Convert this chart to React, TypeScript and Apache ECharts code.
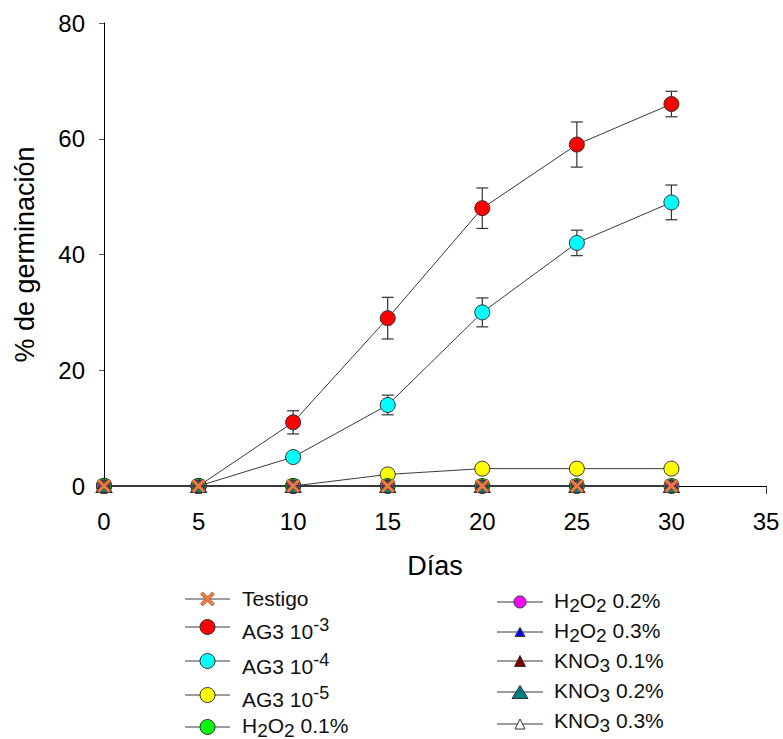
import React, { useEffect, useRef } from 'react';
import * as echarts from 'echarts';

// Germination (%) by day for each treatment
const days = [0, 5, 10, 15, 20, 25, 30];
const testigo = [0, 0, 0, 0, 0, 0, 0];
const ag3_1e3 = [0, 0, 11, 29, 48, 59, 66];
const ag3_1e3_se = [0, 0, 2, 3.6, 3.5, 3.9, 2.2];
const ag3_1e4 = [0, 0, 5, 14, 30, 42, 49];
const ag3_1e4_se = [0, 0, 0.8, 1.7, 2.5, 2.2, 3];
const ag3_1e5 = [0, 0, 0, 2, 3, 3, 3];
const h2o2_01 = [0, 0, 0, 0, 0, 0, 0];
const h2o2_02 = [0, 0, 0, 0, 0, 0, 0];
const h2o2_03 = [0, 0, 0, 0, 0, 0, 0];
const kno3_01 = [0, 0, 0, 0, 0, 0, 0];
const kno3_02 = [0, 0, 0, 0, 0, 0, 0];
const kno3_03 = [0, 0, 0, 0, 0, 0, 0];

// Axis ticks
const xTicks = [0, 5, 10, 15, 20, 25, 30, 35];
const yTicks = [0, 20, 40, 60, 80];

const FONT = 'Liberation Sans, Arial, Helvetica, sans-serif';
const LINE = '#3a3a3a';
const EDGE = '#333333';
const X_PATH =
  'path://M0 16 L16 0 L50 34 L84 0 L100 16 L66 50 L100 84 L84 100 L50 66 L16 100 L0 84 L34 50 Z';

type Kind = 'x' | 'circle' | 'tri';
interface Treatment {
  name: string;
  label: string;
  values: number[];
  kind: Kind;
  color: string;
  w: number;
  h: number;
  z: number;
}

// Drawing order: later entries sit on top where markers overlap at 0 %
const treatments: Treatment[] = [
  { name: 'AG3 10-3', label: '{b|AG3 10}{sup|-3}', values: ag3_1e3, kind: 'circle', color: '#ff0000', w: 15, h: 15, z: 2 },
  { name: 'AG3 10-4', label: '{b|AG3 10}{sup|-4}', values: ag3_1e4, kind: 'circle', color: '#00ffff', w: 15, h: 15, z: 2 },
  { name: 'AG3 10-5', label: '{b|AG3 10}{sup|-5}', values: ag3_1e5, kind: 'circle', color: '#ffff00', w: 15, h: 15, z: 2 },
  { name: 'H2O2 0.1%', label: '{b|H}{sub|2}{b|O}{sub|2}{b| 0.1%}', values: h2o2_01, kind: 'circle', color: '#00ff00', w: 15, h: 15, z: 3 },
  { name: 'H2O2 0.2%', label: '{b|H}{sub|2}{b|O}{sub|2}{b| 0.2%}', values: h2o2_02, kind: 'circle', color: '#ff00ff', w: 12, h: 12, z: 3 },
  { name: 'H2O2 0.3%', label: '{b|H}{sub|2}{b|O}{sub|2}{b| 0.3%}', values: h2o2_03, kind: 'tri', color: '#0000ff', w: 10, h: 9, z: 3 },
  { name: 'KNO3 0.1%', label: '{b|KNO}{sub|3}{b| 0.1%}', values: kno3_01, kind: 'tri', color: '#800000', w: 11, h: 11, z: 3 },
  { name: 'KNO3 0.3%', label: '{b|KNO}{sub|3}{b| 0.3%}', values: kno3_03, kind: 'tri', color: '#ffffff', w: 10, h: 10, z: 3 },
  { name: 'KNO3 0.2%', label: '{b|KNO}{sub|3}{b| 0.2%}', values: kno3_02, kind: 'tri', color: '#008080', w: 16, h: 13, z: 3 },
  { name: 'Testigo', label: '{b|Testigo}', values: testigo, kind: 'x', color: '#f47b3a', w: 14, h: 14, z: 4 },
];

// Legend placement: two columns, rows listed top to bottom
const legendCols = [
  {
    lineX1: 185, lineX2: 230, markX: 207.5, textX: 242,
    items: ['Testigo', 'AG3 10-3', 'AG3 10-4', 'AG3 10-5', 'H2O2 0.1%'],
    lineY: [599, 627, 661, 695, 727],
    textY: [598, 631, 666, 699, 725],
  },
  {
    lineX1: 497, lineX2: 543, markX: 520, textX: 554,
    items: ['H2O2 0.2%', 'H2O2 0.3%', 'KNO3 0.1%', 'KNO3 0.2%', 'KNO3 0.3%'],
    lineY: [602, 632, 661, 692, 724],
    textY: [600, 630, 660, 690, 720],
  },
];

const rich = {
  b: { fontSize: 21, fontFamily: FONT, fill: '#111', color: '#111', lineHeight: 30 },
  sup: { fontSize: 18, fontFamily: FONT, fill: '#111', color: '#111', lineHeight: 30, padding: [0, 0, 12, 0] },
  sub: { fontSize: 19, fontFamily: FONT, fill: '#111', color: '#111', lineHeight: 30, padding: [10, 0, 0, 0] },
};

function legendMarker(t: Treatment, cx: number, cy: number): any {
  const style = { fill: t.color, stroke: t.kind === 'x' ? '#7a4020' : EDGE, lineWidth: t.kind === 'x' ? 0.6 : 1 };
  if (t.kind === 'circle') {
    return { type: 'circle', shape: { cx, cy, r: t.w / 2 }, style };
  }
  if (t.kind === 'tri') {
    return {
      type: 'polygon',
      shape: { points: [[cx, cy - t.h / 2], [cx + t.w / 2, cy + t.h / 2], [cx - t.w / 2, cy + t.h / 2]] },
      style,
    };
  }
  const s = t.w / 100;
  const raw = [[0, 16], [16, 0], [50, 34], [84, 0], [100, 16], [66, 50], [100, 84], [84, 100], [50, 66], [16, 100], [0, 84], [34, 50]];
  return {
    type: 'polygon',
    shape: { points: raw.map(([px, py]) => [cx - t.w / 2 + px * s, cy - t.h / 2 + py * s]) },
    style,
  };
}

function buildLegend(): any[] {
  const out: any[] = [];
  legendCols.forEach((col) => {
    col.items.forEach((nm, i) => {
      const t = treatments.find((q) => q.name === nm)!;
      const ly = col.lineY[i];
      out.push({
        type: 'line',
        shape: { x1: col.lineX1, y1: ly, x2: col.lineX2, y2: ly },
        style: { stroke: LINE, lineWidth: 1 },
      });
      out.push(legendMarker(t, col.markX, ly));
      out.push({
        type: 'text',
        x: col.textX,
        y: col.textY[i],
        style: {
          text: t.label,
          rich,
          fontSize: 21,
          fontFamily: FONT,
          fill: '#111',
          align: 'left',
          verticalAlign: 'middle',
        },
      });
    });
  });
  return out;
}

function errorData(values: number[], se: number[]): number[][] {
  const rows: number[][] = [];
  days.forEach((d, i) => {
    if (se[i] > 0) rows.push([d, values[i] - se[i], values[i] + se[i]]);
  });
  return rows;
}

function errorSeries(name: string, values: number[], se: number[]): any {
  return {
    type: 'custom',
    name: name + ' SE',
    z: 1,
    silent: true,
    encode: { x: 0, y: [1, 2] },
    data: errorData(values, se),
    renderItem: (_params: any, api: any) => {
      const x = api.value(0);
      const lo = api.coord([x, api.value(1)]);
      const hi = api.coord([x, api.value(2)]);
      const hw = 6;
      const st = { stroke: '#333', lineWidth: 1.2 };
      return {
        type: 'group',
        children: [
          { type: 'line', shape: { x1: hi[0], y1: hi[1], x2: lo[0], y2: lo[1] }, style: st },
          { type: 'line', shape: { x1: hi[0] - hw, y1: hi[1], x2: hi[0] + hw, y2: hi[1] }, style: st },
          { type: 'line', shape: { x1: lo[0] - hw, y1: lo[1], x2: lo[0] + hw, y2: lo[1] }, style: st },
        ],
      };
    },
  };
}

function lineSeries(t: Treatment): any {
  const symbol = t.kind === 'circle' ? 'circle' : t.kind === 'tri' ? 'triangle' : X_PATH;
  return {
    type: 'line',
    name: t.name,
    z: t.z,
    clip: false,
    data: days.map((d, i) => [d, t.values[i]]),
    symbol,
    symbolSize: t.kind === 'circle' ? t.w : [t.w, t.h],
    showSymbol: true,
    lineStyle: { color: LINE, width: 1 },
    itemStyle: {
      color: t.color,
      borderColor: t.kind === 'x' ? '#7a4020' : EDGE,
      borderWidth: t.kind === 'x' ? 0.6 : 1,
    },
    emphasis: { disabled: true },
  };
}

export default function App() {
  const ref = useRef<HTMLDivElement>(null);

  useEffect(() => {
    if (!ref.current) return;
    const chart = echarts.init(ref.current, undefined, { renderer: 'svg' });
    const xStep = xTicks[1] - xTicks[0];
    const yStep = yTicks[1] - yTicks[0];
    chart.setOption({
      animation: false,
      backgroundColor: '#ffffff',
      grid: { left: 104, top: 23, width: 662, height: 463, containLabel: false },
      xAxis: {
        type: 'value',
        min: xTicks[0],
        max: xTicks[xTicks.length - 1],
        interval: xStep,
        name: 'Días',
        nameLocation: 'middle',
        nameGap: 66,
        nameTextStyle: { fontSize: 27, fontFamily: FONT, color: '#000' },
        axisLine: { show: true, onZero: false, lineStyle: { color: '#000', width: 1 } },
        axisTick: { show: true, inside: false, length: 8, lineStyle: { color: '#333', width: 1 } },
        axisLabel: { margin: 23, fontSize: 24, fontFamily: FONT, color: '#000' },
        splitLine: { show: false },
      },
      yAxis: {
        type: 'value',
        min: yTicks[0],
        max: yTicks[yTicks.length - 1],
        interval: yStep,
        name: '% de germinación',
        nameLocation: 'middle',
        nameGap: 66,
        nameTextStyle: { fontSize: 27, fontFamily: FONT, color: '#000' },
        axisLine: { show: true, onZero: false, lineStyle: { color: '#000', width: 1 } },
        axisTick: { show: true, inside: false, length: 5, lineStyle: { color: '#555', width: 1 } },
        axisLabel: { margin: 19, fontSize: 24, fontFamily: FONT, color: '#000' },
        splitLine: { show: false },
      },
      series: [
        errorSeries('AG3 10-3', ag3_1e3, ag3_1e3_se),
        errorSeries('AG3 10-4', ag3_1e4, ag3_1e4_se),
        ...treatments.map(lineSeries),
      ],
      graphic: buildLegend(),
    });
    return () => chart.dispose();
  }, []);

  return (
    <div
      ref={ref}
      style={{ position: 'absolute', left: 0, top: 0, width: 783, height: 739, background: '#fff' }}
    />
  );
}
